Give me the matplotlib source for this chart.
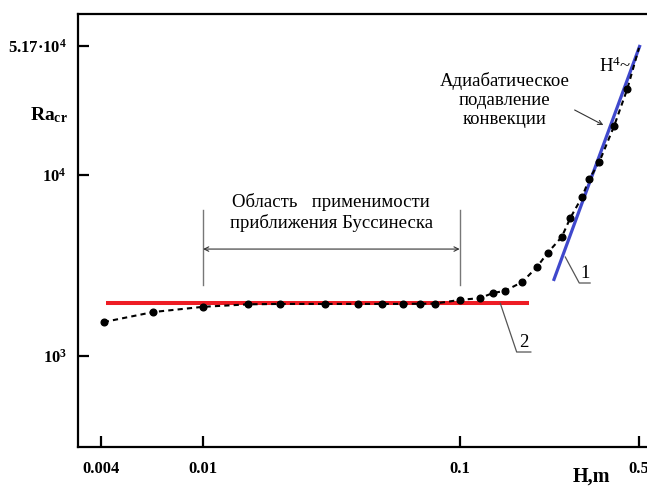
import matplotlib
matplotlib.use("Agg")
import matplotlib.pyplot as plt

plt.rcParams['font.family'] = ['Liberation Serif', 'DejaVu Serif']
plt.rcParams['mathtext.default'] = 'regular'

# ---- data ----
H = [0.0041, 0.0064, 0.010, 0.015, 0.020, 0.030, 0.040, 0.050, 0.060, 0.070,
     0.080, 0.100, 0.120, 0.135, 0.150, 0.175, 0.200, 0.220, 0.250, 0.270,
     0.300, 0.320, 0.350, 0.400, 0.450, 0.500]
Ra = [1540, 1750, 1870, 1930, 1940, 1940, 1940, 1940, 1940, 1945,
      1950, 2040, 2090, 2230, 2290, 2560, 3100, 3710, 4550, 5800,
      7570, 9510, 11800, 18700, 29900, 50500]

# line 1: adiabatic suppression ~ H^4
line1_H = [0.232, 0.505]
line1_Ra = [2600, 52400]
# line 2: Boussinesq constant
line2_H = [0.0042, 0.1865]
line2_Ra = [1955, 1955]

xticks = [0.004, 0.01, 0.1, 0.5]
xticklabels = ['0.004', '0.01', '0.1', '0.5']
yticks = [1000, 10000, 51700]
yticklabels = ['10$^3$', '10$^4$', '5.17·10$^4$']

fig = plt.figure(figsize=(6.47, 4.86), dpi=100)
ax = fig.add_axes([78/647, 39/486, 569/647, 433/486])
ax.set_xscale('log')
ax.set_yscale('log')
ax.set_xlim(0.003255, 0.5372)
ax.set_ylim(314, 77700)

# red Boussinesq line
ax.plot(line2_H, line2_Ra, color='#ee1c24', lw=2.9, solid_capstyle='butt', zorder=2)
# blue H^4 line
ax.plot(line1_H, line1_Ra, color='#3f48cc', lw=2.3, solid_capstyle='butt', zorder=2)
# dashed curve with points
ax.plot(H, Ra, color='black', lw=1.5, ls=(0, (2.5, 2)), zorder=3)
ax.plot(H[:-1], Ra[:-1], 'o', color='black', ms=4.8, zorder=4)

# axes styling
ax.minorticks_off()
ax.set_xticks(xticks)
ax.set_xticklabels(xticklabels)
ax.set_yticks(yticks)
ax.set_yticklabels(yticklabels)
for s in ['left', 'top', 'bottom']:
    ax.spines[s].set_linewidth(1.6)
ax.spines['right'].set_visible(False)
ax.tick_params(axis='both', which='major', direction='in', length=8, width=1.6,
               labelsize=12)
ax.tick_params(axis='x', pad=10)
ax.tick_params(axis='y', pad=8)
for lab in ax.get_xticklabels() + ax.get_yticklabels():
    lab.set_fontweight('bold')

# axis labels
fig.text(30/647, 1 - 115/486, 'Ra$_{cr}$', fontsize=14, fontweight='bold',
         ha='left', va='center')
fig.text(591/647, 1 - 477/486, 'H,m', fontsize=14.5, fontweight='bold',
         ha='center', va='center')

# Boussinesq region bracket
for xv in [0.01, 0.1]:
    ax.plot([xv, xv], [2467, 6410], color='#777777', lw=1.0, zorder=1)
ax.annotate('', xy=(0.1, 3900), xytext=(0.01, 3900),
            arrowprops=dict(arrowstyle='<->', color='#333333', lw=0.8,
                            shrinkA=0, shrinkB=0, mutation_scale=8))
ax.text(0.0316, 6210, 'Область   применимости\nприближения Буссинеска',
        fontsize=13.5, ha='center', va='center', linespacing=1.15)

# adiabatic suppression text and arrow
ax.text(0.150, 26000, 'Адиабатическое\nподавление\nконвекции',
        fontsize=13.5, ha='center', va='center', linespacing=1.15)
ax.annotate('', xy=(0.3632, 18900), xytext=(0.2806, 22900),
            arrowprops=dict(arrowstyle='->', color='#333333', lw=0.8,
                            shrinkA=0, shrinkB=0, mutation_scale=8))
ax.text(0.3488, 40100, 'H$^4$~', fontsize=13.5, ha='left', va='center')

# label 1 with leader
ax.plot([0.258, 0.2925, 0.3224], [3526, 2532, 2532], color='#555555', lw=0.9,
        clip_on=False)
ax.text(0.3077, 2560, '1', fontsize=13.5, ha='center', va='bottom')

# label 2 with leader
ax.plot([0.1440, 0.1668, 0.1894], [1955, 1052, 1052], color='#555555', lw=0.9,
        clip_on=False)
ax.text(0.1781, 1065, '2', fontsize=13.5, ha='center', va='bottom')

fig.savefig('out.png', dpi=100)
